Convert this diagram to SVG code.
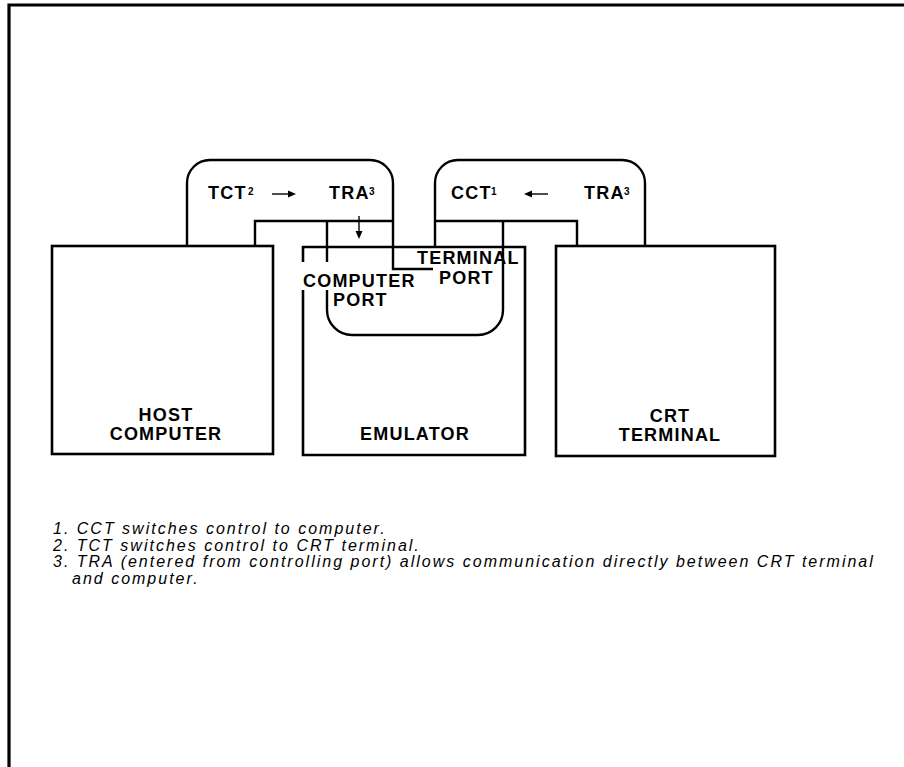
<svg xmlns="http://www.w3.org/2000/svg" width="904" height="767" viewBox="0 0 904 767">
  <defs>
    <style>
      .box { fill: none; stroke: #000; stroke-width: 2.6; stroke-linejoin: miter; }
      .wire { fill: none; stroke: #000; stroke-width: 2.4; }
      .thin { fill: none; stroke: #000; stroke-width: 1.4; }
      .lbl { font-family: "Liberation Sans", Arial, Helvetica, sans-serif; font-weight: bold; font-size: 18px; letter-spacing: 1.2px; fill: #000; }
      .sup { font-family: "Liberation Sans", Arial, Helvetica, sans-serif; font-weight: bold; font-size: 10px; fill: #000; }
      .note { font-family: "Liberation Sans", Arial, Helvetica, sans-serif; font-style: italic; font-size: 16px; letter-spacing: 2px; fill: #000; }
    </style>
  </defs>
  <rect width="904" height="767" fill="#fff"/>
  <!-- page border -->
  <path d="M9,767 V5 H904" fill="none" stroke="#000" stroke-width="3.2"/>

  <g id="host-computer">
    <rect class="box" x="52" y="246" width="221" height="208"/>
    <text class="lbl" x="166" y="421" text-anchor="middle">HOST</text>
    <text class="lbl" x="166" y="440" text-anchor="middle">COMPUTER</text>
  </g>

  <g id="emulator">
    <path class="box" d="M303,262 V247 H525 V455 H303 V290"/>
    <text class="lbl" x="415" y="440" text-anchor="middle">EMULATOR</text>
  </g>

  <g id="computer-port">
    <text class="lbl" x="303" y="287">COMPUTER</text>
    <text class="lbl" x="333" y="306">PORT</text>
  </g>

  <g id="terminal-port">
    <text class="lbl" x="417" y="264">TERMINAL</text>
    <text class="lbl" x="439" y="284">PORT</text>
  </g>

  <g id="crt-terminal">
    <rect class="box" x="556" y="246" width="219" height="210"/>
    <text class="lbl" x="670" y="422" text-anchor="middle">CRT</text>
    <text class="lbl" x="670" y="441" text-anchor="middle">TERMINAL</text>
  </g>

  <g id="connectors">
    <path class="wire" d="M187,246 V183 A23,23 0 0 1 210,160 H370 A23,23 0 0 1 393,183 V269 H433"/>
    <path class="wire" d="M255,246 V221 H393"/>
    <path class="wire" d="M327,221 V262"/>
    <path class="wire" d="M327,290 V310 A25,25 0 0 0 352,335 H478 A25,25 0 0 0 503,310 V221"/>
    <path class="wire" d="M435,247 V183 A23,23 0 0 1 458,160 H622 A23,23 0 0 1 645,183 V246"/>
    <path class="wire" d="M435,221 H577 V246"/>
    <path class="thin" d="M359,216 V232"/>
    <polygon points="355.5,231 362.5,231 359,239"/>
    <path class="thin" d="M272,194 H289"/>
    <polygon points="288,190.5 296,194 288,197.5"/>
    <path class="thin" d="M531,194 H548"/>
    <polygon points="532,190.5 524,194 532,197.5"/>
  </g>

  <g id="loop-labels">
    <text class="lbl" x="208" y="199">TCT</text>
    <text class="sup" x="248" y="195">2</text>
    <text class="lbl" x="329" y="199">TRA</text>
    <text class="sup" x="369" y="195">3</text>
    <text class="lbl" x="451" y="199">CCT</text>
    <text class="sup" x="491" y="195">1</text>
    <text class="lbl" x="584" y="199">TRA</text>
    <text class="sup" x="624" y="195">3</text>
  </g>

  <g id="notes">
    <text class="note" x="53" y="534">1. CCT switches control to computer.</text>
    <text class="note" x="53" y="550.5">2. TCT switches control to CRT terminal.</text>
    <text class="note" x="53" y="567">3. TRA (entered from controlling port) allows communication directly between CRT terminal</text>
    <text class="note" x="72" y="583.5">and computer.</text>
  </g>
</svg>
